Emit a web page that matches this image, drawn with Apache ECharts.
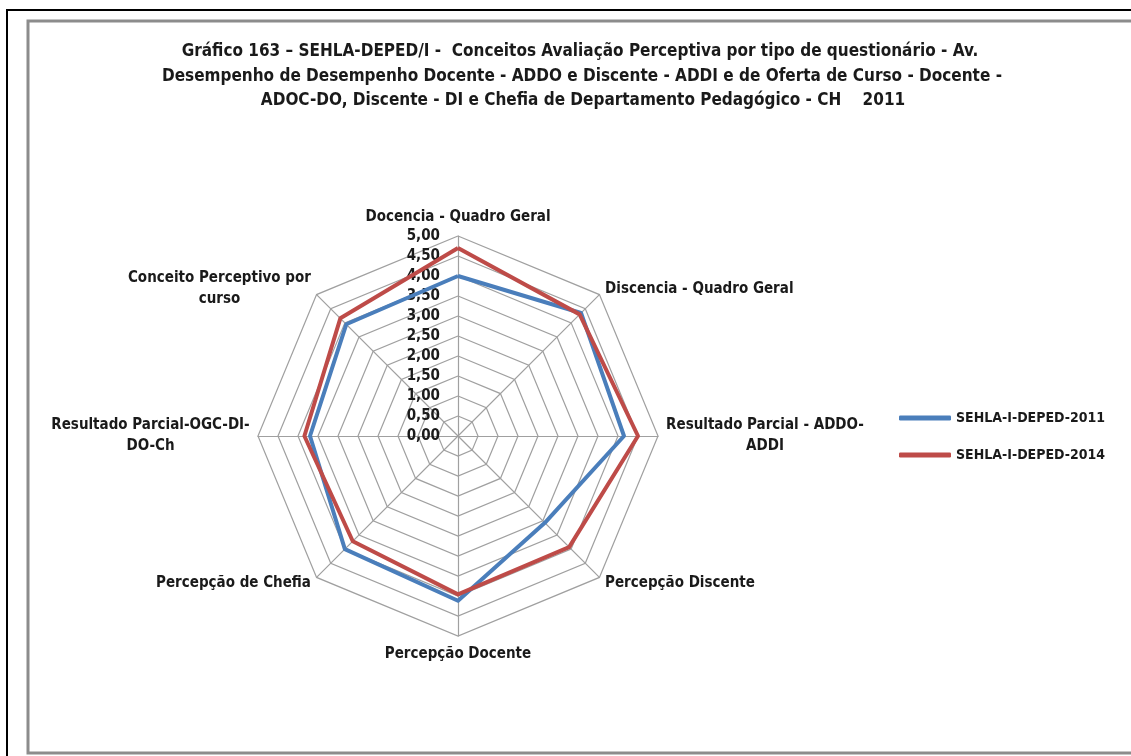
<!DOCTYPE html>
<html>
<head>
<meta charset="utf-8">
<script src="https://cdn.jsdelivr.net/npm/echarts@6/dist/echarts.min.js"></script>
<style>
html,body{margin:0;padding:0;background:#fff;}
#chart{width:1131px;height:756px;}
</style>
</head>
<body>
<div id="chart"></div>
<script>
// ---- data (reference order, clockwise from top) ----
const categories = [
  'Docencia - Quadro Geral',
  'Discencia - Quadro Geral',
  'Resultado Parcial - ADDO-\nADDI',
  'Percepção Discente',
  'Percepção Docente',
  'Percepção de Chefia',
  'Resultado Parcial-OGC-DI-\nDO-Ch',
  'Conceito Perceptivo por\ncurso'
];
const seriesNames = ['SEHLA-I-DEPED-2011', 'SEHLA-I-DEPED-2014'];
const values2011 = [4.00, 4.35, 4.15, 3.07, 4.12, 4.00, 3.70, 3.95];
const values2014 = [4.70, 4.30, 4.50, 3.93, 3.96, 3.72, 3.84, 4.16];
const tickLabels = ['0,00','0,50','1,00','1,50','2,00','2,50','3,00','3,50','4,00','4,50','5,00'];
const titleLines = [
  'Gráfico 163 – SEHLA-DEPED/I -  Conceitos Avaliação Perceptiva por tipo de questionário - Av.',
  'Desempenho de Desempenho Docente - ADDO e Discente - ADDI e de Oferta de Curso - Docente -',
  'ADOC-DO, Discente - DI e Chefia de Departamento Pedagógico - CH    2011'
];

// ECharts radar runs counter-clockwise; reorder so it reads clockwise like the reference
const order = [0].concat(categories.map((_, i) => i).slice(1).reverse());
const pick = arr => order.map(i => arr[i]);

const FONT = "'Liberation Sans Narrow','DejaVu Sans Condensed','Open Sans',sans-serif";
const textColor = '#1a1a1a';
const labelSize = 15;

const ctx = document.createElement('canvas').getContext('2d');
ctx.font = 'bold ' + labelSize + 'px ' + FONT;
const richStyles = {};
function nameFormatter(name) {
  if (name.indexOf('\n') < 0) return name;
  const lines = name.split('\n');
  const w = Math.ceil(Math.max.apply(null, lines.map(l => ctx.measureText(l).width)));
  const key = 'w' + w;
  richStyles[key] = { width: w, align: 'center', fontWeight: 'bold', fontSize: labelSize, fontFamily: FONT, color: textColor, lineHeight: 21 };
  return lines.map(l => '{' + key + '|' + l + '}').join('\n');
}
categories.forEach(nameFormatter);

function titleText(i, x, y) {
  return { type: 'text', x: x, y: y, silent: true,
    style: { text: titleLines[i], fontFamily: FONT, fontSize: 17, fontWeight: 'bold', fill: textColor, align: 'center', verticalAlign: 'middle' } };
}

const chart = echarts.init(document.getElementById('chart'));
const cx = 458, cy = 436, R = 200;

chart.setOption({
  animation: false,
  backgroundColor: '#fff',
  graphic: [
    { type: 'rect', shape: { x: 7, y: 10, width: 1300, height: 900 }, style: { fill: 'none', stroke: '#000', lineWidth: 2 }, silent: true },
    { type: 'rect', shape: { x: 28, y: 21, width: 1300, height: 732 }, style: { fill: 'none', stroke: '#8c8c8c', lineWidth: 3 }, silent: true },
    titleText(0, 580, 52),
    titleText(1, 582, 77),
    titleText(2, 583, 101)
  ],
  legend: {
    orient: 'vertical',
    left: 894,
    top: 406,
    itemWidth: 52,
    itemHeight: 5,
    itemGap: 23,
    icon: 'roundRect',
    data: seriesNames,
    textStyle: { fontFamily: FONT, fontWeight: 'bold', fontSize: 14, color: textColor }
  },
  grid: { left: cx - 14, top: cy - R, width: 10, height: R },
  xAxis: { type: 'value', show: false },
  yAxis: {
    type: 'value', min: 0, max: 5, interval: 0.5,
    axisLine: { show: false }, axisTick: { show: false }, splitLine: { show: false },
    axisLabel: {
      margin: 4,
      fontFamily: FONT, fontWeight: 'bold', fontSize: labelSize, color: textColor,
      formatter: v => tickLabels[Math.round(v * 2)]
    }
  },
  radar: {
    center: [cx, cy],
    radius: R,
    startAngle: 90,
    splitNumber: 10,
    shape: 'polygon',
    indicator: pick(categories).map(n => ({ name: n, min: 0, max: 5 })),
    axisName: {
      formatter: nameFormatter,
      color: textColor, fontFamily: FONT, fontWeight: 'bold', fontSize: labelSize,
      lineHeight: 21,
      rich: richStyles
    },
    nameGap: 8,
    axisLine: { lineStyle: { color: '#a0a0a0', width: 1.2 } },
    splitLine: { lineStyle: { color: '#a0a0a0', width: 1.2 } },
    splitArea: { show: false },
    axisLabel: { show: false },
    axisTick: { show: false }
  },
  series: [{
    type: 'radar',
    symbol: 'none',
    data: [
      { name: seriesNames[0], value: pick(values2011), lineStyle: { color: '#4a7ebb', width: 4 }, itemStyle: { color: '#4a7ebb' } },
      { name: seriesNames[1], value: pick(values2014), lineStyle: { color: '#be4b48', width: 4 }, itemStyle: { color: '#be4b48' } }
    ]
  }]
});
</script>
</body>
</html>
